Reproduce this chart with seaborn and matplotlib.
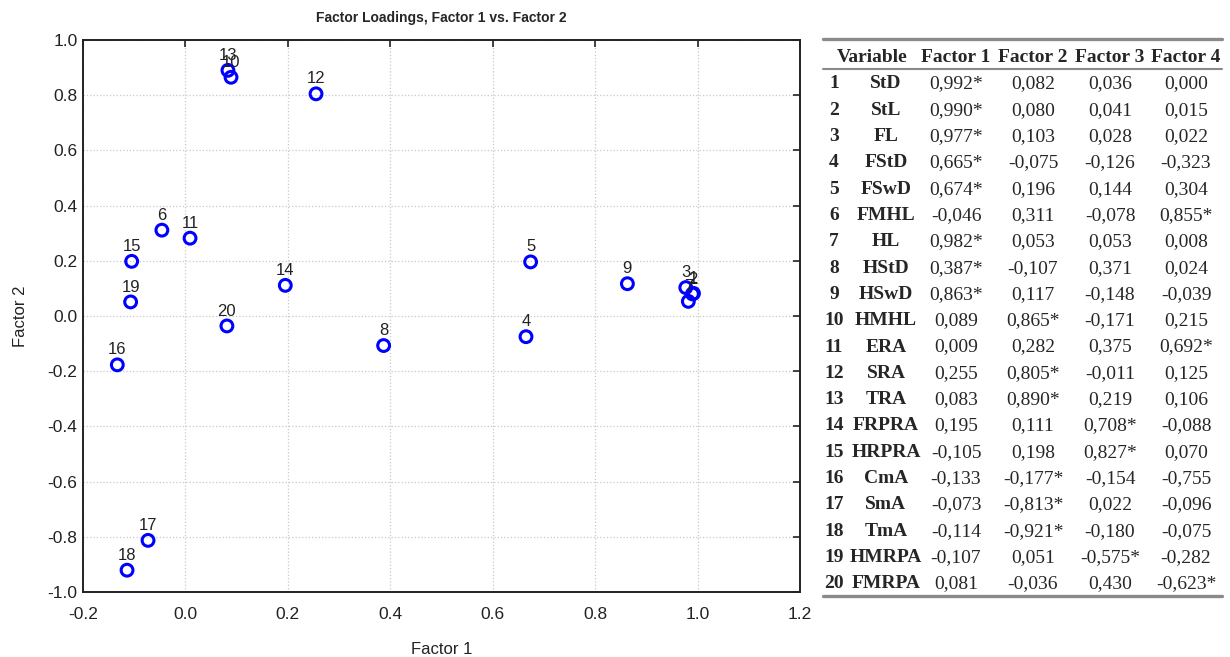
import matplotlib
matplotlib.use("Agg")
import matplotlib.pyplot as plt
import seaborn as sns
from matplotlib.ticker import FormatStrFormatter

# factor loadings (table + scatter)
numbers = list(range(1, 21))
variables = ['StD', 'StL', 'FL', 'FStD', 'FSwD', 'FMHL', 'HL', 'HStD', 'HSwD', 'HMHL',
             'ERA', 'SRA', 'TRA', 'FRPRA', 'HRPRA', 'CmA', 'SmA', 'TmA', 'HMRPA', 'FMRPA']
factor1 = [0.992, 0.990, 0.977, 0.665, 0.674, -0.046, 0.982, 0.387, 0.863, 0.089,
           0.009, 0.255, 0.083, 0.195, -0.105, -0.133, -0.073, -0.114, -0.107, 0.081]
factor2 = [0.082, 0.080, 0.103, -0.075, 0.196, 0.311, 0.053, -0.107, 0.117, 0.865,
           0.282, 0.805, 0.890, 0.111, 0.198, -0.177, -0.813, -0.921, 0.051, -0.036]
factor3 = [0.036, 0.041, 0.028, -0.126, 0.144, -0.078, 0.053, 0.371, -0.148, -0.171,
           0.375, -0.011, 0.219, 0.708, 0.827, -0.154, 0.022, -0.180, -0.575, 0.430]
factor4 = [0.000, 0.015, 0.022, -0.323, 0.304, 0.855, 0.008, 0.024, -0.039, 0.215,
           0.692, 0.125, 0.106, -0.088, 0.070, -0.755, -0.096, -0.075, -0.282, -0.623]
# which factor carries the asterisk in each row
starred = [1, 1, 1, 1, 1, 4, 1, 1, 1, 2, 4, 2, 2, 3, 3, 2, 2, 2, 3, 4]

xticks = [-0.2, 0.0, 0.2, 0.4, 0.6, 0.8, 1.0, 1.2]
yticks = [-1.0, -0.8, -0.6, -0.4, -0.2, 0.0, 0.2, 0.4, 0.6, 0.8, 1.0]

sns.set_theme(style="white")
plt.rcParams['font.family'] = ['Liberation Sans', 'DejaVu Sans']
plt.rcParams['axes.unicode_minus'] = False

W, H = 1230, 657
fig = plt.figure(figsize=(12.3, 6.57), dpi=100)
ax = fig.add_axes([83 / W, 65 / H, 717 / W, 552 / H])

sns.scatterplot(x=factor1, y=factor2, ax=ax, s=72, color='#0000ff',
                facecolor='none', edgecolor='#0000ff', linewidth=2.2, zorder=3)
for n, x, y in zip(numbers, factor1, factor2):
    ax.annotate(str(n), (x, y), xytext=(0, 7.5), textcoords='offset points',
                ha='center', va='baseline', fontsize=12, color='#222222')

ax.set_xlim(-0.2, 1.2)
ax.set_ylim(-1.0, 1.0)
ax.set_xticks(xticks)
ax.set_yticks(yticks)
ax.xaxis.set_major_formatter(FormatStrFormatter('%.1f'))
ax.yaxis.set_major_formatter(FormatStrFormatter('%.1f'))
ax.grid(True, linestyle=':', color='#c8c8c8', linewidth=0.9)
ax.tick_params(direction='in', top=True, right=True, length=5, width=1.2,
               labelsize=12.5, labelcolor='#222222', color='#222222')
ax.tick_params(axis='x', pad=11)
ax.tick_params(axis='y', pad=4)
for sp in ax.spines.values():
    sp.set_linewidth(1.4)
    sp.set_color('#222222')

ax.set_title("Factor Loadings, Factor 1 vs. Factor 2", fontsize=10, fontweight='bold', pad=13)
ax.set_xlabel("Factor 1", fontsize=12, labelpad=14, color='#222222')
ax.set_ylabel("Factor 2", fontsize=12, labelpad=14, color='#222222')

# table on the right, in pixel coordinates
tab = fig.add_axes([0, 0, 1, 1])
tab.set_xlim(0, W)
tab.set_ylim(H, 0)
tab.axis('off')

tab.plot([823, 1222], [39, 39], color='#8a8a8a', lw=2.4)
tab.plot([823, 1222], [69, 69], color='#8a8a8a', lw=1.5)
tab.plot([823, 1222], [596, 596], color='#8a8a8a', lw=2.4)

serif = ['Liberation Serif', 'DejaVu Serif']
col_x = [956, 1033, 1110, 1186]
tab.text(872, 57, "Variable", ha='center', va='center', family=serif, fontsize=14, fontweight='bold')
for i, cx in enumerate(col_x):
    tab.text(cx, 57, f"Factor {i + 1}", ha='center', va='center', family=serif,
             fontsize=14, fontweight='bold')


def fmt(v, star):
    s = f"{v:.3f}".replace('.', ',')
    return s + '*' if star else s


for r in range(len(numbers)):
    y = 84 + r * 26.3
    tab.text(834, y, str(numbers[r]), ha='center', va='center', family=serif,
             fontsize=14, fontweight='bold')
    tab.text(886, y, variables[r], ha='center', va='center', family=serif,
             fontsize=14, fontweight='bold')
    vals = [factor1[r], factor2[r], factor3[r], factor4[r]]
    for j, cx in enumerate(col_x):
        tab.text(cx, y, fmt(vals[j], starred[r] == j + 1), ha='center', va='center',
                 family=serif, fontsize=14)

fig.savefig("out.png", dpi=100)
